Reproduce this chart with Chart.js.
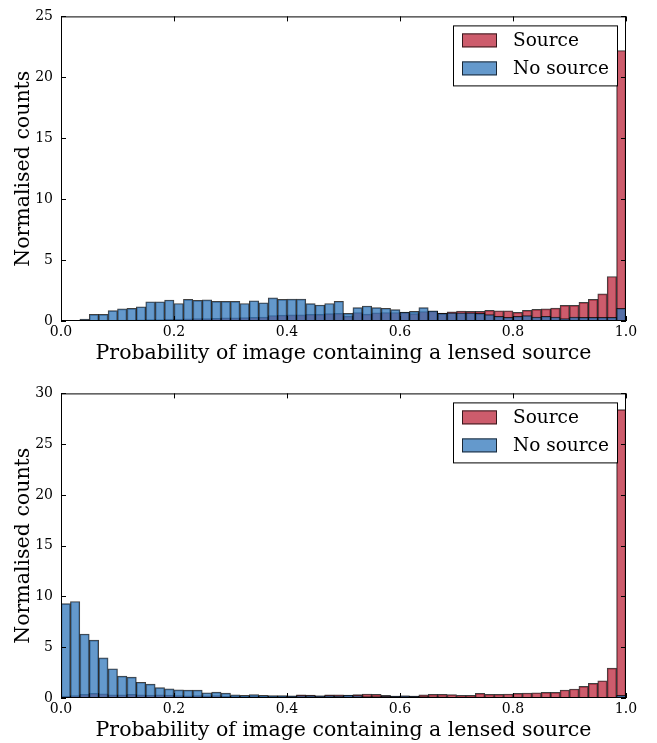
<!DOCTYPE html>
<html>
<head>
<title>Lens finder probability histograms</title>
<script src="https://cdn.jsdelivr.net/npm/chart.js"></script>
<style>
  body { margin: 0; background: #fff; }
  .panel { position: absolute; left: 0; width: 657px; }
  #panelTop { top: 0; height: 371px; }
  #panelBottom { top: 377px; height: 366px; }
</style>
</head>
<body>
<div class="panel" id="panelTop"><canvas id="chartTop" width="657" height="371"></canvas></div>
<div class="panel" id="panelBottom"><canvas id="chartBottom" width="657" height="366"></canvas></div>

<script>
// 60 equal bins on [0, 1]
const binCentres = Array.from({ length: 60 }, (_, i) => (i + 0.5) / 60);
const xTicks = [0, 0.2, 0.4, 0.6, 0.8, 1.0];
const xTitle = 'Probability of image containing a lensed source';
const yTitle = 'Normalised counts';

// upper panel
const sourceTop = [
  0, 0.02, 0.03, 0.05, 0.05, 0.06, 0.08, 0.08, 0.1, 0.12,
  0.12, 0.15, 0.15, 0.18, 0.2, 0.2, 0.22, 0.25, 0.25, 0.28,
  0.3, 0.32, 0.45, 0.48, 0.5, 0.5, 0.55, 0.55, 0.6, 0.62,
  0.4, 0.7, 0.57, 0.68, 0.7, 0.7, 0.72, 0.6, 0.78, 0.8,
  0.65, 0.76, 0.82, 0.79, 0.79, 0.87, 0.84, 0.84, 0.71, 0.87,
  0.95, 1.0, 1.06, 1.28, 1.28, 1.53, 1.77, 2.23, 3.65, 22.2
];
const noSourceTop = [
  0, 0.05, 0.16, 0.54, 0.54, 0.85, 1.0, 1.04, 1.17, 1.58,
  1.58, 1.72, 1.44, 1.77, 1.69, 1.74, 1.61, 1.61, 1.61, 1.44,
  1.66, 1.5, 1.9, 1.77, 1.8, 1.8, 1.42, 1.31, 1.44, 1.62,
  0.63, 1.1, 1.23, 1.1, 1.05, 0.93, 0.73, 0.79, 1.1, 0.84,
  0.63, 0.68, 0.68, 0.68, 0.63, 0.52, 0.38, 0.3, 0.38, 0.44,
  0.33, 0.38, 0.33, 0.19, 0.33, 0.3, 0.3, 0.3, 0.3, 1.04
];

// lower panel
const sourceBottom = [
  0.2, 0.25, 0.35, 0.45, 0.4, 0.3, 0.32, 0.35, 0.3, 0.28,
  0.3, 0.28, 0.25, 0.22, 0.24, 0.22, 0.25, 0.2, 0.18, 0.2,
  0.18, 0.2, 0.18, 0.2, 0.2, 0.3, 0.28, 0.22, 0.32, 0.3,
  0.26, 0.33, 0.39, 0.36, 0.26, 0.2, 0.22, 0.2, 0.3, 0.36,
  0.36, 0.33, 0.26, 0.26, 0.46, 0.36, 0.36, 0.39, 0.46, 0.49,
  0.52, 0.56, 0.56, 0.79, 0.89, 1.15, 1.44, 1.7, 2.95, 28.4
];
const noSourceBottom = [
  9.3, 9.5, 6.3, 5.7, 3.95, 2.88, 2.15, 2.05, 1.55, 1.36,
  1.02, 0.9, 0.8, 0.78, 0.78, 0.52, 0.58, 0.48, 0.32, 0.27,
  0.33, 0.26, 0.24, 0.24, 0.22, 0.25, 0.24, 0.22, 0.24, 0.22,
  0.28, 0.25, 0.15, 0.14, 0.17, 0.2, 0.22, 0.2, 0.15, 0.12,
  0.12, 0.1, 0.1, 0.1, 0.08, 0.08, 0.08, 0.07, 0.08, 0.07,
  0.07, 0.06, 0.07, 0.05, 0.06, 0.05, 0.05, 0.05, 0.05, 0.26
];

const serif = 'DejaVu Serif';
const redFill = 'rgba(188, 38, 59, 0.75)';
const blueFill = 'rgba(48, 119, 187, 0.75)';
const edge = 'rgba(0, 0, 0, 0.75)';

// box around the axes, inward ticks on all four sides, and the framed legend
const framePlugin = {
  id: 'frame',
  afterDatasetsDraw(chart) {
    const { ctx, chartArea: a, scales: { x, y } } = chart;
    ctx.save();
    ctx.strokeStyle = '#000';
    ctx.lineWidth = 1;
    ctx.strokeRect(a.left + 0.5, a.top + 0.5, a.right - a.left - 1, a.bottom - a.top - 1);

    ctx.beginPath();
    x.ticks.forEach(t => {
      const px = Math.round(x.getPixelForValue(t.value)) + 0.5;
      ctx.moveTo(px, a.bottom); ctx.lineTo(px, a.bottom - 5);
      ctx.moveTo(px, a.top); ctx.lineTo(px, a.top + 5);
    });
    y.ticks.forEach(t => {
      const py = Math.round(y.getPixelForValue(t.value)) + 0.5;
      ctx.moveTo(a.left, py); ctx.lineTo(a.left + 5, py);
      ctx.moveTo(a.right, py); ctx.lineTo(a.right - 5, py);
    });
    ctx.stroke();

    const boxW = 164, boxH = 60;
    const bx = a.right - 9 - boxW, by = a.top + 9;
    ctx.fillStyle = '#fff';
    ctx.fillRect(bx, by, boxW, boxH);
    ctx.strokeRect(bx + 0.5, by + 0.5, boxW, boxH);
    ctx.font = '18.5px "' + serif + '"';
    ctx.textBaseline = 'middle';
    chart.data.datasets.forEach((ds, i) => {
      const cy = by + 15 + i * 28;
      ctx.fillStyle = ds.backgroundColor;
      ctx.fillRect(bx + 9, cy - 7, 35, 14);
      ctx.strokeStyle = ds.borderColor;
      ctx.strokeRect(bx + 9.5, cy - 6.5, 34, 13);
      ctx.fillStyle = '#000';
      ctx.fillText(ds.label, bx + 60, cy + 1);
    });
    ctx.restore();
  }
};

function makeHist(canvasId, source, noSource, yMax, padTop, padBottom) {
  return new Chart(document.getElementById(canvasId), {
    type: 'bar',
    data: {
      labels: binCentres,
      datasets: [
        {
          label: 'Source',
          data: source,
          backgroundColor: redFill,
          borderColor: edge,
          borderWidth: 1,
          order: 2
        },
        {
          label: 'No source',
          data: noSource,
          backgroundColor: blueFill,
          borderColor: edge,
          borderWidth: 1,
          order: 1
        }
      ]
    },
    options: {
      responsive: false,
      animation: false,
      grouped: false,
      barPercentage: 1,
      categoryPercentage: 1,
      layout: { padding: { top: padTop, right: 31, left: 0, bottom: padBottom } },
      plugins: { legend: { display: false }, tooltip: { enabled: false } },
      scales: {
        x: {
          type: 'linear',
          min: 0,
          max: 1,
          offset: false,
          afterBuildTicks: s => { s.ticks = xTicks.map(v => ({ value: v })); },
          afterFit: s => { s.height = 45; },
          ticks: {
            padding: 3,
            color: '#000',
            font: { family: serif, size: 14 },
            maxRotation: 0,
            callback: v => v.toFixed(1)
          },
          grid: { display: false, drawTicks: false },
          border: { display: false },
          title: {
            display: true,
            text: xTitle,
            color: '#000',
            font: { family: serif, size: 20.5 },
            padding: { top: 0, bottom: 0 }
          }
        },
        y: {
          min: 0,
          max: yMax,
          afterFit: s => { s.width = 61; },
          ticks: {
            stepSize: 5,
            padding: 8,
            color: '#000',
            font: { family: serif, size: 14 }
          },
          grid: { display: false, drawTicks: false },
          border: { display: false },
          title: {
            display: true,
            text: yTitle,
            color: '#000',
            font: { family: serif, size: 20.5 },
            padding: { top: 11, bottom: 0 }
          }
        }
      }
    },
    plugins: [framePlugin]
  });
}

makeHist('chartTop', sourceTop, noSourceTop, 25, 15, 5);
makeHist('chartBottom', sourceBottom, noSourceBottom, 30, 16, 0);
</script>
</body>
</html>
